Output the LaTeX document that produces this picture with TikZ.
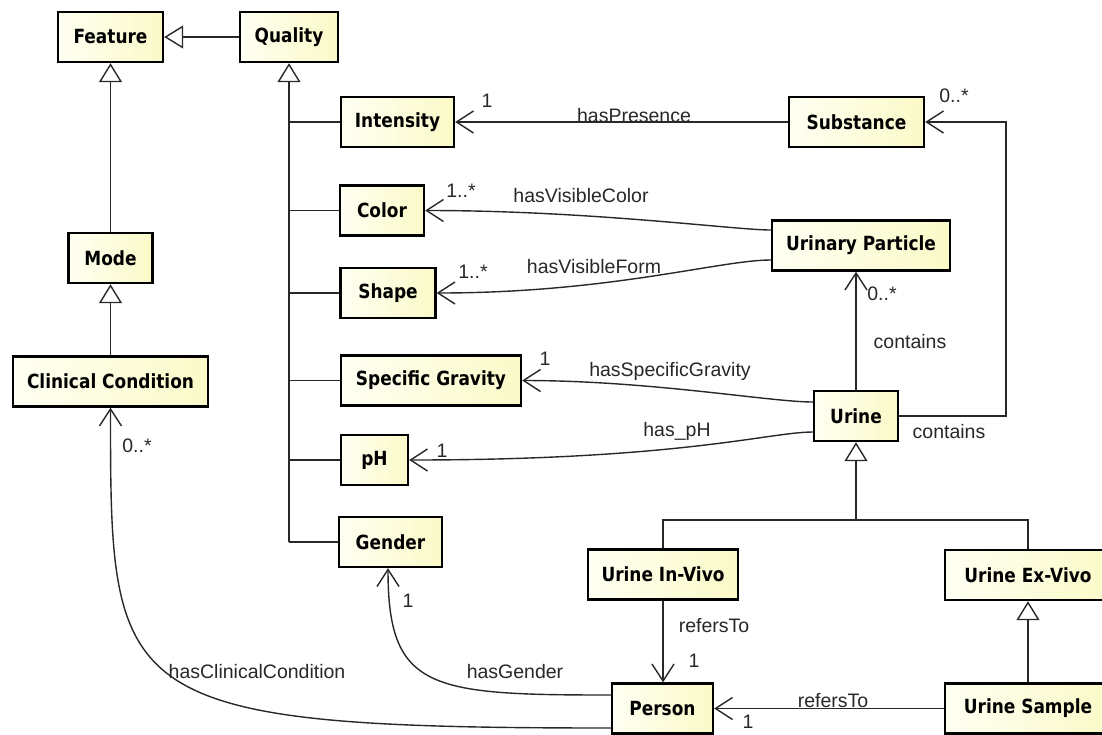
\documentclass[tikz,border=0pt]{standalone}
\usepackage{fontspec}
\setmainfont{Liberation Sans}
\newfontfamily\clsfont[FakeStretch=0.87]{DejaVu Sans}
\usetikzlibrary{arrows.meta}

\definecolor{boxlight}{RGB}{255,255,243}
\definecolor{boxdark}{RGB}{250,250,200}
\definecolor{ink}{RGB}{40,40,40}

\tikzset{
  cls/.style={draw=black, line width=2.4pt, left color=boxlight, right color=boxdark,
    minimum height=50pt, inner sep=0pt, text=black,
    font=\clsfont\bfseries\fontsize{19.5}{22}\selectfont},
  lbl/.style={anchor=base, inner sep=0pt, text=ink,
    font=\fontsize{19.5}{22}\selectfont},
  link/.style={draw=ink, line width=1.4pt},
  gen/.style={link, -{Triangle[open, length=19pt, width=23pt, line width=1.4pt]}},
  nav/.style={link, -{Straight Barb[length=17pt, width=22pt, line width=1.4pt]}},
}

\begin{document}
\begin{tikzpicture}[x=1pt, y=-1pt]
\fill[white] (0,0) rectangle (1102,734);
\path[use as bounding box, clip] (0,0) rectangle (1102,734);

% classes
\node[cls, minimum width=105pt] (feature)   at (110.5,37)    {Feature};
\node[cls, minimum width=98pt]  (quality)   at (289,37)      {Quality};
\node[cls, minimum width=84pt]  (mode)      at (110.5,258)   {Mode};
\node[cls, minimum width=195pt] (clinical)  at (110.5,381.5) {Clinical Condition};
\node[cls, minimum width=113pt] (intensity) at (397.5,122)   {Intensity};
\node[cls, minimum width=84pt]  (color)     at (382,210.5)   {Color};
\node[cls, minimum width=95pt]  (shape)     at (388,293)     {Shape};
\node[cls, minimum width=180pt] (gravity)   at (431,380.5)   {Specific Gravity};
\node[cls, minimum width=67pt]  (ph)        at (374.5,460)   {pH};
\node[cls, minimum width=103pt] (gender)    at (390.5,542)   {Gender};
\node[cls, minimum width=135pt] (substance) at (856.5,122)   {Substance};
\node[cls, minimum width=178pt] (particle)  at (861,245.5)   {Urinary Particle};
\node[cls, minimum width=84pt]  (urine)     at (856,416)     {Urine};
\node[cls, minimum width=150pt] (invivo)    at (663,574.5)   {Urine In-Vivo};
\node[cls, minimum width=166pt] (exvivo)    at (1028,575)    {Urine Ex-Vivo};
\node[cls, minimum width=101pt] (person)    at (662.5,708.5) {Person};
\node[cls, minimum width=166pt] (sample)    at (1028,708.5)  {Urine Sample};

% generalizations
\draw[gen] (quality.west) -- (feature.east);
\draw[gen] (mode.north) -- (feature.south);
\draw[gen] (clinical.north) -- (mode.south);

\coordinate (trunkend) at (289,542);
\draw[gen] (trunkend) -- (quality.south);
\foreach \n in {intensity,color,shape,gravity,ph,gender}
  \draw[link] (\n.west) -- (\n.west -| quality.south);

\coordinate (ujoin) at (856,520);
\draw[gen] (ujoin) -- (urine.south);
\draw[link] (invivo.north) -- (invivo.north |- ujoin) -- (exvivo.north |- ujoin) -- (exvivo.north);
\draw[gen] (sample.north) -- (exvivo.south);

% associations
\draw[nav] (substance.west) -- (intensity.east);
\draw[nav] ([yshift=15.5pt]particle.west) .. controls (735,230) and (590,210.5) .. (color.east);
\draw[nav] ([yshift=-14.5pt]particle.west) .. controls (720,260) and (610,293) .. (shape.east);
\draw[nav] ([yshift=14pt]urine.west) .. controls (770,402) and (650,380.5) .. (gravity.east);
\draw[nav] ([yshift=-16pt]urine.west) .. controls (770,432) and (680,460) .. (ph.east);
\draw[nav] (urine.north) -- (urine.north |- particle.south);
\coordinate (loopx) at (1006,0);
\draw[nav] (urine.east) -- (urine.east -| loopx) -- (substance.east -| loopx) -- (substance.east);
\draw[nav] (invivo.south) -- (invivo.south |- person.north);
\draw[nav] (sample.west) -- (person.east);
\draw[nav] ([yshift=13.5pt]person.west) .. controls (430,695) and (388,690) .. ([xshift=-2.5pt]gender.south);
\draw[nav] ([yshift=-19.5pt]person.west) .. controls (110,728) and (110.5,700) .. (clinical.south);

% association names and multiplicities
\node[lbl] at (634,122) {hasPresence};
\node[lbl] at (487,107) {1};
\node[lbl] at (954,102) {0..*};
\node[lbl] at (461,197) {1..*};
\node[lbl] at (581,202) {hasVisibleColor};
\node[lbl] at (473,278) {1..*};
\node[lbl] at (594,273) {hasVisibleForm};
\node[lbl] at (882,300) {0..*};
\node[lbl] at (910,348) {contains};
\node[lbl] at (949,438) {contains};
\node[lbl] at (670,376) {hasSpecificGravity};
\node[lbl] at (545,365) {1};
\node[lbl] at (677,436) {has\_pH};
\node[lbl] at (442,457) {1};
\node[lbl] at (137,452) {0..*};
\node[lbl] at (257,678) {hasClinicalCondition};
\node[lbl] at (408,607) {1};
\node[lbl] at (515,678) {hasGender};
\node[lbl] at (714,632) {refersTo};
\node[lbl] at (694,667) {1};
\node[lbl] at (833,707) {refersTo};
\node[lbl] at (748,728) {1};
\end{tikzpicture}
\end{document}
